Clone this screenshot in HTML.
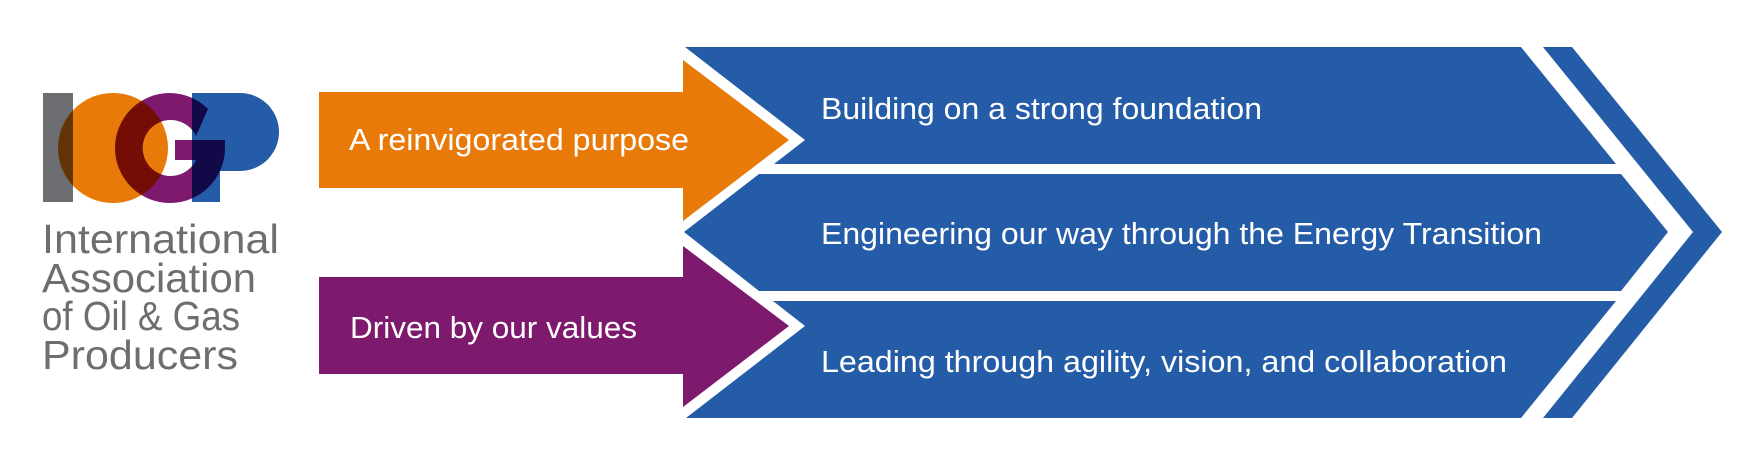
<!DOCTYPE html>
<html><head><meta charset="utf-8"><style>
html,body{margin:0;padding:0;background:#fff;width:1759px;height:468px;overflow:hidden}
svg{display:block}
</style></head><body>
<svg width="1759" height="468" viewBox="0 0 1759 468" xmlns="http://www.w3.org/2000/svg">
<rect width="1759" height="468" fill="#fff"/>
<!-- logo -->
<g style="isolation:isolate">
<rect x="43" y="93" width="30" height="109" fill="#6d6e71"/>
<circle cx="113" cy="148" r="55" fill="#e87a0a" style="mix-blend-mode:multiply"/>
<path d="M192 93 H240 A39 39 0 0 1 240 171 H220 V202 H192 Z" fill="#245ca7" style="mix-blend-mode:multiply"/>
<path fill-rule="evenodd" d="M170 93 A55 55 0 1 0 225 148 L225 140 L175 140 L175 160 L196 160 A28 28 0 1 1 196 136 L208 109 A55 55 0 0 0 170 93 Z" fill="#7e1a6e" style="mix-blend-mode:multiply"/>
</g>
<g font-family="Liberation Sans, sans-serif" font-size="41" fill="#6d6e71">
<text x="42" y="253" textLength="237" lengthAdjust="spacingAndGlyphs">International</text>
<text x="42" y="292" textLength="214" lengthAdjust="spacingAndGlyphs">Association</text>
<text x="42" y="330" textLength="198" lengthAdjust="spacingAndGlyphs">of Oil &amp; Gas</text>
<text x="42" y="369" textLength="196" lengthAdjust="spacingAndGlyphs">Producers</text>
</g>
<!-- arrows -->
<polygon points="319,92 683,92 683,60 789,140 683,221 683,188 319,188" fill="#e87a0a"/>
<polygon points="319,277 683,277 683,246 789,326 683,407 683,374 319,374" fill="#7e1a6e"/>
<!-- blue blocks -->
<g fill="#245ca7">
<polygon points="685,47 1521,47 1616,164 774,164 805,140"/>
<polygon points="759,174 1621,174 1668,232 1621,291 759,291 684,232"/>
<polygon points="773,301 1616,301 1521,418 686,418 805,326"/>
<polygon points="1543,47 1572,47 1722,232 1572,418 1543,418 1693,232"/>
</g>
<g font-family="Liberation Sans, sans-serif" font-size="31" fill="#fff">
<text x="349" y="150" textLength="340" lengthAdjust="spacingAndGlyphs">A reinvigorated purpose</text>
<text x="350" y="338" textLength="287" lengthAdjust="spacingAndGlyphs">Driven by our values</text>
<text x="821" y="119" textLength="441" lengthAdjust="spacingAndGlyphs">Building on a strong foundation</text>
<text x="821" y="244" textLength="721" lengthAdjust="spacingAndGlyphs">Engineering our way through the Energy Transition</text>
<text x="821" y="372" textLength="686" lengthAdjust="spacingAndGlyphs">Leading through agility, vision, and collaboration</text>
</g>
</svg>
</body></html>
